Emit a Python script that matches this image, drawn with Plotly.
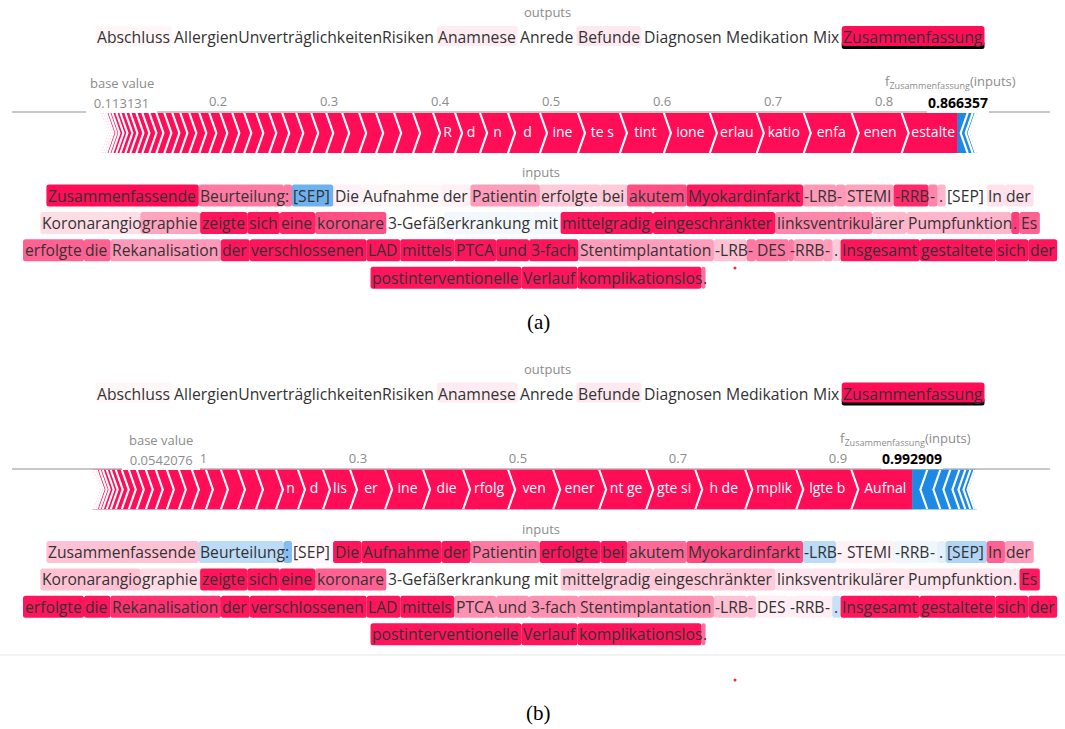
import glob
import os
import struct
import plotly.graph_objects as go

W, H = 1065, 729
FONT = "Open Sans"

# ---------------------------------------------------------------- data
OUTPUT_NAMES = ["Abschluss", "AllergienUnverträglichkeitenRisiken", "Anamnese", "Anrede",
                "Befunde", "Diagnosen", "Medikation", "Mix", "Zusammenfassung"]
OUTPUT_WEIGHT = [0.04, 0.0, 0.08, 0.0, 0.09, 0.0, 0.0, 0.0, 1.0]
SELECTED_OUTPUT = "Zusammenfassung"

TOKENS = [
    "Zusammenfassende ", "Beurteilung", ": ", "[SEP] ", "Die ", "Aufnahme ", "der ", "Patientin ",
    "erfolgte ", "bei ", "akutem ", "Myokardinfarkt ", "-LRB", "- ", "STEMI ", "-RRB", "- ", ". ",
    "[SEP] ", "In ", "der ",
    "Koronarangio", "graphie ", "zeigte ", "sich ", "eine ", "koronare ", "3-Gefäß", "erkrankung ",
    "mit ", "mittelgradig ", "eingeschränkter ", "linksventrikul", "ärer ", "Pumpfunktion", ". ", "Es ",
    "erfolgte ", "die ", "Rekanalisation ", "der ", "verschlossenen ", "LAD ", "mittels ", "PTCA ",
    "und ", "3-fach ", "Stentimplantation ", "-LRB", "- ", "DES ", "-", "RRB", "- ", ". ",
    "Insgesamt ", "gestaltete ", "sich ", "der ",
    "postinterventionelle ", "Verlauf ", "komplikationslos", ".",
]
LINE_STARTS = [0, 21, 37, 59]

SHAP_TEXT_A = [
    1.0, 0.55, 0.55, -0.65, 0.06, 0.04, 0.06, 0.4, 0.22, 0.22, 0.72, 0.95, 0.42, 0.42, 0.38, 0.88,
    0.5, 0.3, 0.0, 0.12, 0.12,
    0.14, 0.38, 0.97, 0.97, 0.9, 0.72, 0.0, -0.06, -0.06, 0.97, 0.97, 0.5, 0.3, 0.3, 0.8, 0.65,
    0.65, 0.65, 0.42, 0.97, 0.97, 0.97, 0.97, 0.97, 0.97, 0.97, 0.4, 0.25, 0.55, 0.55, 0.55, 0.4,
    0.4, 0.22, 0.97, 0.97, 0.97, 0.97,
    0.97, 0.97, 0.97, 0.6,
]
SHAP_TEXT_B = [
    0.25, -0.3, -0.55, 0.03, 0.97, 0.97, 0.97, 0.55, 0.97, 0.97, 0.62, 0.75, -0.3, 0.06, 0.06,
    -0.07, -0.07, -0.12, -0.35, 0.65, 0.4,
    0.25, 0.15, 0.97, 0.97, 0.97, 0.65, 0.0, 0.0, 0.0, 0.22, 0.22, 0.1, 0.1, 0.1, 0.1, 0.95,
    0.97, 0.97, 0.85, 0.97, 0.97, 0.97, 0.97, 0.45, 0.45, 0.45, 0.45, 0.25, 0.25, 0.07, 0.07,
    0.07, 0.07, -0.25, 0.97, 0.97, 0.97, 0.97,
    0.97, 0.97, 0.97, 0.6,
]

# force plot (a)
BASE_A = 0.113131
FX_A = 0.866357
RED_A = [0.0505, 0.0450, 0.0432, 0.0423, 0.0423, 0.0414, 0.0396, 0.0378, 0.0342, 0.0288, 0.0252,
         0.0225, 0.0198, 0.0180, 0.0171, 0.0162, 0.0153, 0.0153, 0.0144, 0.0135, 0.0135, 0.0126,
         0.0117, 0.0117, 0.0108, 0.0108, 0.0108, 0.0099, 0.0090, 0.0090, 0.0081, 0.0072, 0.0072,
         0.0072, 0.0063, 0.0063, 0.0054, 0.0054, 0.0045, 0.0045, 0.0036, 0.0036, 0.0027, 0.0027,
         0.0018, 0.0018, 0.0018]
RED_LABELS_A = ["estalte", "enen", "enfa", "katio", "erlau", "ione", "tint", "te s", "ine", "d",
                "n", "d", "R"]
BLUE_A = [0.0090, 0.0045, 0.0027, 0.0018]
TICKS_A = [0.2, 0.3, 0.4, 0.5, 0.6, 0.7, 0.8]
XRANGE_A = [0.0144, 0.9495]

# force plot (b)
BASE_B = 0.0542076
FX_B = 0.992909
RED_B = [0.0763, 0.0688, 0.0638, 0.0625, 0.0613, 0.0588, 0.0575, 0.0563, 0.0563, 0.0500, 0.0475,
         0.0438, 0.0338, 0.0313, 0.0275, 0.0250, 0.0225, 0.0213, 0.0188, 0.0175, 0.0163, 0.0150,
         0.0138, 0.0125, 0.0113, 0.0100, 0.0088, 0.0075, 0.0063, 0.0050, 0.0050, 0.0038, 0.0038,
         0.0025, 0.0025]
RED_LABELS_B = ["Aufnal", "lgte b", "mplik", "h de", "gte si", "nt ge", "ener", "ven", "rfolg",
                "die", "ine", "er", "lis", "d", "n"]
BLUE_B = [0.0188, 0.0163, 0.0125, 0.0113, 0.0075, 0.0063, 0.0050, 0.0025]
TICKS_B = [0.1, 0.3, 0.5, 0.7, 0.9]
XRANGE_B = [-0.1325, 1.165]

CAPTIONS = ["(a)", "(b)"]

# ---------------------------------------------------------------- style / layout constants
RED = "#ff0d57"
BLUE = "#1e88e5"
GRAY = "#8c8c8c"
TEXT = "#333333"
CENTER_X = 539.5
PANEL_DY = [0.0, 356.5]
CAPTION_Y = [322, 713]
AX_L, AX_R = 12, 1050
BAR_TOP, BAR_BOT = 113, 153
NOTCH_PX = 7
LINE_Y0, LINE_DY = 195.5, 27.4
OUT_ROW_Y = 37
OUT_ROW_WIDTH = 886
INPUT_LINE_WIDTH = 1030
NBSP = "\u00a0"


# ---------------------------------------------------------------- font metrics
def _find_font_file():
    roots = ["/usr/share/fonts", "/usr/local/share/fonts",
             os.path.expanduser("~/.fonts"), os.path.expanduser("~/.local/share/fonts")]
    files = []
    for r in roots:
        for ext in ("ttf", "otf", "TTF", "OTF"):
            files += glob.glob(os.path.join(r, "**", "*." + ext), recursive=True)
    cands = []
    for f in files:
        b = os.path.basename(f).lower().replace("-", "").replace("_", "").replace(" ", "")
        if b.startswith("opensans"):
            cands.append(f)

    def rank(f):
        b = os.path.basename(f).lower()
        bad = any(k in b for k in ("italic", "bold", "semi", "light", "extra", "condensed", "medium"))
        return (bad, "regular" not in b, len(b))
    cands.sort(key=rank)
    return cands[0] if cands else None


class Metrics:
    def __init__(self, path):
        self.ok = False
        try:
            self._load(path)
            self.ok = True
        except Exception:
            self.ok = False

    def _load(self, path):
        with open(path, "rb") as f:
            data = f.read()
        off0 = 0
        if data[:4] == b"ttcf":
            off0 = struct.unpack(">I", data[12:16])[0]
        n = struct.unpack(">H", data[off0 + 4:off0 + 6])[0]
        tables = {}
        for i in range(n):
            rec = off0 + 12 + 16 * i
            tag = data[rec:rec + 4].decode("latin1")
            _, off, length = struct.unpack(">III", data[rec + 4:rec + 16])
            tables[tag] = off
        head = tables["head"]
        self.upem = struct.unpack(">H", data[head + 18:head + 20])[0]
        hhea = tables["hhea"]
        nh = struct.unpack(">H", data[hhea + 34:hhea + 36])[0]
        hm = tables["hmtx"]
        self.adv = [struct.unpack(">H", data[hm + 4 * i:hm + 4 * i + 2])[0] for i in range(nh)]
        cm = tables["cmap"]
        ns = struct.unpack(">H", data[cm + 2:cm + 4])[0]
        best = None
        for i in range(ns):
            pid, eid, off = struct.unpack(">HHI", data[cm + 4 + 8 * i:cm + 12 + 8 * i])
            fmt = struct.unpack(">H", data[cm + off:cm + off + 2])[0]
            if fmt == 4 and (best is None or (pid == 3 and eid == 1)):
                best = cm + off
        if best is None:
            raise ValueError("no fmt4")
        s = best
        segx2 = struct.unpack(">H", data[s + 6:s + 8])[0]
        seg = segx2 // 2
        self.ends = struct.unpack(">%dH" % seg, data[s + 14:s + 14 + segx2])
        self.starts = struct.unpack(">%dH" % seg, data[s + 16 + segx2:s + 16 + 2 * segx2])
        self.deltas = struct.unpack(">%dh" % seg, data[s + 16 + 2 * segx2:s + 16 + 3 * segx2])
        self.ro_pos = s + 16 + 3 * segx2
        self.ros = struct.unpack(">%dH" % seg, data[self.ro_pos:self.ro_pos + segx2])
        self.data = data
        self.seg = seg

    def gid(self, c):
        for k in range(self.seg):
            if self.ends[k] >= c:
                if self.starts[k] > c:
                    return 0
                if self.ros[k] == 0:
                    return (c + self.deltas[k]) & 0xFFFF
                addr = self.ro_pos + 2 * k + self.ros[k] + 2 * (c - self.starts[k])
                g = struct.unpack(">H", self.data[addr:addr + 2])[0]
                return (g + self.deltas[k]) & 0xFFFF if g else 0
        return 0

    def em(self, s):
        tot = 0
        for ch in s:
            g = self.gid(ord(ch))
            tot += self.adv[g] if g < len(self.adv) else self.adv[-1]
        return tot / self.upem


_FALLBACK = {" ": 0.26, ".": 0.27, ":": 0.27, "-": 0.32, "[": 0.3, "]": 0.3, "i": 0.25, "l": 0.25,
             "j": 0.25, "f": 0.34, "t": 0.36, "r": 0.41, "s": 0.48, "c": 0.48, "m": 0.93, "w": 0.78,
             "I": 0.28, "M": 0.9, "W": 0.92}


def _fallback_em(s):
    tot = 0
    for ch in s:
        if ch in _FALLBACK:
            tot += _FALLBACK[ch]
        elif ch.isupper():
            tot += 0.63
        else:
            tot += 0.56
    return tot


_path = _find_font_file()
_metrics = Metrics(_path) if _path else None


def em_width(s):
    if _metrics is not None and _metrics.ok:
        return _metrics.em(s)
    return _fallback_em(s)


# ---------------------------------------------------------------- helpers
def shade(v):
    a = min(abs(v), 1.0)
    if v >= 0:
        return f"rgba(255,13,87,{a:.3f})"
    return f"rgba(30,136,229,{a:.3f})"


def rounded_path(x0, y0, x1, y1, r):
    r = max(0.0, min(r, (x1 - x0) / 2, (y1 - y0) / 2))
    return (f"M{x0 + r:.2f},{y0:.2f} L{x1 - r:.2f},{y0:.2f} Q{x1:.2f},{y0:.2f} {x1:.2f},{y0 + r:.2f} "
            f"L{x1:.2f},{y1 - r:.2f} Q{x1:.2f},{y1:.2f} {x1 - r:.2f},{y1:.2f} L{x0 + r:.2f},{y1:.2f} "
            f"Q{x0:.2f},{y1:.2f} {x0:.2f},{y1 - r:.2f} L{x0:.2f},{y0 + r:.2f} Q{x0:.2f},{y0:.2f} {x0 + r:.2f},{y0:.2f} Z")


shapes = []
annots = []


def text_annot(x, y, txt, size, color=TEXT, xanchor="left", family=FONT, xref="x", yref="y", **kw):
    d = dict(x=x, y=y, xref=xref, yref=yref, text=txt, showarrow=False, xanchor=xanchor,
             yanchor="middle", font=dict(family=family, size=size, color=color),
             borderpad=0, borderwidth=0)
    d.update(kw)
    annots.append(d)


# font sizes fitted to the reference line widths
row_text = " ".join(OUTPUT_NAMES)
OUT_SIZE = OUT_ROW_WIDTH / em_width(row_text)
line3 = "".join(TOKENS[LINE_STARTS[2]:LINE_STARTS[3]]).rstrip()
IN_SIZE = INPUT_LINE_WIDTH / em_width(line3)

fig = go.Figure()

PANELS = [
    dict(base=BASE_A, fx=FX_A, red=RED_A, labels=RED_LABELS_A, blue=BLUE_A, ticks=TICKS_A,
         xrange=XRANGE_A, text=SHAP_TEXT_A),
    dict(base=BASE_B, fx=FX_B, red=RED_B, labels=RED_LABELS_B, blue=BLUE_B, ticks=TICKS_B,
         xrange=XRANGE_B, text=SHAP_TEXT_B),
]

layout_axes = dict(
    xaxis=dict(domain=[0, 1], range=[0, W], visible=False, fixedrange=True),
    yaxis=dict(domain=[0, 1], range=[H, 0], visible=False, fixedrange=True),
)

for k, p in enumerate(PANELS):
    dy = PANEL_DY[k]
    xa, ya = f"x{k + 2}", f"y{k + 2}"

    # ----- outputs row
    text_annot(547, dy + 12, "outputs", 13, GRAY, xanchor="center")
    sp = em_width(" ") * OUT_SIZE
    widths = [em_width(nm) * OUT_SIZE for nm in OUTPUT_NAMES]
    total = sum(widths) + sp * (len(OUTPUT_NAMES) - 1)
    x = CENTER_X + 0.5 - total / 2
    yc = dy + OUT_ROW_Y
    for nm, w, wt in zip(OUTPUT_NAMES, widths, OUTPUT_WEIGHT):
        if nm == SELECTED_OUTPUT:
            shapes.append(dict(type="path", xref="x", yref="y", layer="below",
                               path=rounded_path(x - 1.5, yc + 4, x + w + 1.5, yc + 12, 2.5),
                               fillcolor="#000000", line=dict(width=0)))
        if wt > 0.02:
            shapes.append(dict(type="path", xref="x", yref="y", layer="below",
                               path=rounded_path(x - 1.5, yc - 11, x + w + 1.5, yc + 9, 3),
                               fillcolor=shade(wt), line=dict(width=0)))
        text_annot(x, yc, nm, OUT_SIZE)
        x += w + sp

    # ----- force plot
    scale = (AX_R - AX_L) / (p["xrange"][1] - p["xrange"][0])
    n = NOTCH_PX / scale
    rx, ry, sx, sy, lx, lt = [], [], [], [], [], []
    right = p["fx"]
    for i, v in enumerate(p["red"]):
        left = right - v
        tip = 0 if i == 0 else n
        rx += [left, right, right + tip, right, left, left + n, left, None]
        ry += [1, 1, 0.5, 0, 0, 0.5, 1, None]
        sx += [left, left + n, left, None]
        sy += [1, 0.5, 0, None]
        if i < len(p["labels"]) and p["labels"][i]:
            lx.append((left + right) / 2 + n / 2)
            lt.append(p["labels"][i])
        right = left
    bx, by, bsx, bsy = [], [], [], []
    left = p["fx"]
    for i, v in enumerate(p["blue"]):
        right = left + v
        tip = 0 if i == 0 else n
        bx += [left, right, right - n, right, left, left - tip, left, None]
        by += [1, 1, 0.5, 0, 0, 0.5, 1, None]
        bsx += [right, right - n, right, None]
        bsy += [1, 0.5, 0, None]
        left = right

    fig.add_trace(go.Scatter(x=rx, y=ry, mode="lines", fill="toself", fillcolor=RED,
                             line=dict(color=RED, width=0.5), xaxis=xa, yaxis=ya,
                             hoverinfo="skip", showlegend=False))
    fig.add_trace(go.Scatter(x=bx, y=by, mode="lines", fill="toself", fillcolor=BLUE,
                             line=dict(color=BLUE, width=0.5), xaxis=xa, yaxis=ya,
                             hoverinfo="skip", showlegend=False))
    fig.add_trace(go.Scatter(x=sx, y=sy, mode="lines", line=dict(color="#ffffff", width=2.2),
                             xaxis=xa, yaxis=ya, hoverinfo="skip", showlegend=False))
    fig.add_trace(go.Scatter(x=bsx, y=bsy, mode="lines", line=dict(color="#ffffff", width=2.2),
                             xaxis=xa, yaxis=ya, hoverinfo="skip", showlegend=False))
    fig.add_trace(go.Scatter(x=lx, y=[0.5] * len(lx), mode="text", text=lt,
                             textfont=dict(color="#ffffff", size=14, family=FONT),
                             xaxis=xa, yaxis=ya, hoverinfo="skip", showlegend=False))

    layout_axes[f"xaxis{k + 2}"] = dict(
        domain=[AX_L / W, AX_R / W], range=p["xrange"], anchor=ya, side="top",
        showline=True, linecolor="#c8c8c8", linewidth=1.5, ticks="inside", ticklen=4,
        tickcolor="#b0b0b0", tickvals=p["ticks"], ticktext=[f"{t:g}" for t in p["ticks"]],
        tickfont=dict(family=FONT, size=13, color=GRAY), showgrid=False, zeroline=False,
        fixedrange=True, layer="below traces")
    layout_axes[f"yaxis{k + 2}"] = dict(
        domain=[1 - (dy + BAR_BOT) / H, 1 - (dy + BAR_TOP) / H], range=[0, 1], visible=False,
        anchor=xa, fixedrange=True)

    # base value & f(x) labels
    text_annot(p["base"], dy + 83, "base value", 13, GRAY, xanchor="center", xref=xa)
    text_annot(p["base"], dy + 103, NBSP * 2 + f"{p['base']:g}" + NBSP * 2, 13, GRAY,
               xanchor="center", xref=xa, bgcolor="#ffffff", borderpad=1)
    text_annot(p["fx"], dy + 82, f"f<sub>{SELECTED_OUTPUT}</sub>(inputs)", 13, GRAY,
               xanchor="center", xref=xa, xshift=-7)
    text_annot(p["fx"], dy + 102, f"<b>{p['fx']:g}</b>", 14, "#000000", xanchor="center",
               xref=xa, bgcolor="#ffffff", borderpad=1)

    # ----- inputs text
    text_annot(CENTER_X + 1, dy + 172, "inputs", 13, GRAY, xanchor="center")
    spw = em_width(" ") * IN_SIZE
    for li in range(len(LINE_STARTS)):
        s = LINE_STARTS[li]
        e = LINE_STARTS[li + 1] if li + 1 < len(LINE_STARTS) else len(TOKENS)
        toks = TOKENS[s:e]
        vals = p["text"][s:e]
        ws = [em_width(t) * IN_SIZE for t in toks]
        tot = sum(ws) - (spw if toks[-1].endswith(" ") else 0)
        x = CENTER_X - tot / 2
        yc = dy + LINE_Y0 + li * LINE_DY
        for t, w, v in zip(toks, ws, vals):
            if abs(v) > 0.02:
                shapes.append(dict(type="path", xref="x", yref="y", layer="below",
                                   path=rounded_path(x - 1.5, yc - 11, x + w - 1.4, yc + 11, 2.5),
                                   fillcolor=shade(v), line=dict(width=0)))
            text_annot(x, yc, t.rstrip(" "), IN_SIZE)
            x += w

    text_annot(538, CAPTION_Y[k], CAPTIONS[k], 21, "#000000", xanchor="center",
               family="Liberation Serif")

# thin separator line and stray red dots
shapes.append(dict(type="line", xref="x", yref="y", x0=0, x1=W, y0=655, y1=655,
                   line=dict(color="#e6e6e6", width=1)))
fig.add_trace(go.Scatter(x=[735, 735], y=[268, 680], mode="markers",
                         marker=dict(color="#e8313f", size=3), xaxis="x", yaxis="y",
                         hoverinfo="skip", showlegend=False))

fig.update_layout(
    width=W, height=H, margin=dict(l=0, r=0, t=0, b=0),
    paper_bgcolor="#ffffff", plot_bgcolor="rgba(0,0,0,0)",
    showlegend=False, shapes=shapes, annotations=annots,
    font=dict(family=FONT), hovermode=False,
    **layout_axes,
)

fig.write_html("out.html", config={"displayModeBar": False},
               post_script="document.body.style.margin='0';document.body.style.overflow='hidden';")
